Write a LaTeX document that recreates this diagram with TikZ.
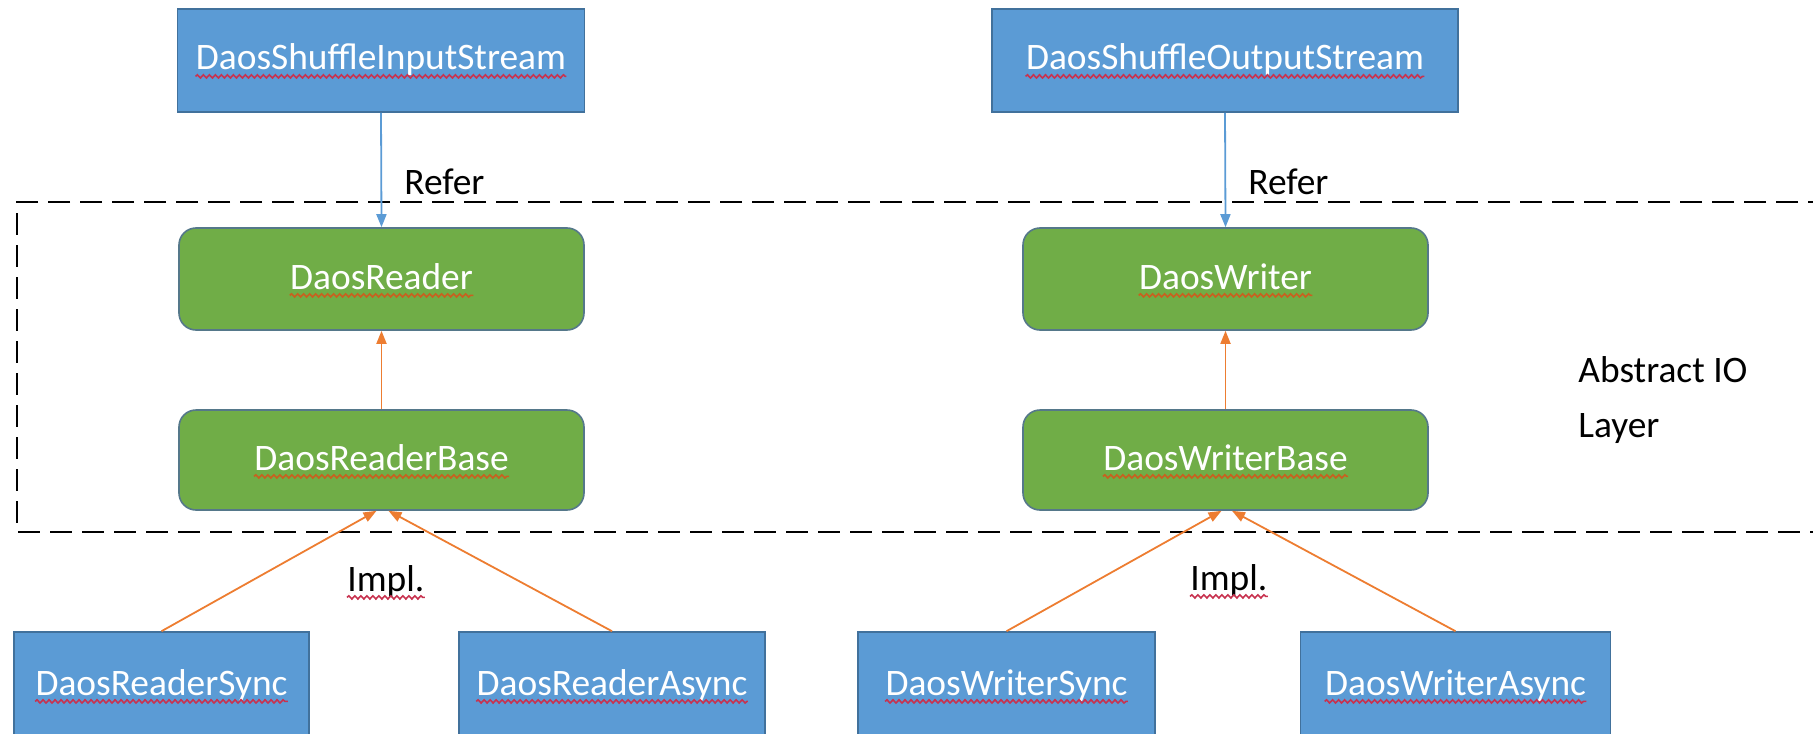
\documentclass[tikz,border=0pt]{standalone}
\usepackage{fontspec}
\setmainfont{Carlito}
\usetikzlibrary{arrows.meta,decorations.pathmorphing}

\definecolor{boxblue}{HTML}{5B9BD5}
\definecolor{blueedge}{HTML}{41719C}
\definecolor{boxgreen}{HTML}{70AD47}
\definecolor{greenedge}{HTML}{55788A}
\definecolor{referblue}{HTML}{5B9BD5}
\definecolor{implorange}{HTML}{ED7D31}
\definecolor{spellred}{HTML}{C8324F}
\definecolor{grammarorange}{HTML}{C9601F}

\tikzset{
  classbox/.style={rectangle, fill=boxblue, draw=blueedge, line width=0.8pt, inner sep=0pt},
  abstractbox/.style={rectangle, rounded corners=8.5pt, fill=boxgreen, draw=greenedge,
    line width=0.8pt, minimum width=202.5pt, minimum height=51pt, inner sep=0pt},
  labelfont/.style={font=\fontsize{18.7pt}{22pt}\selectfont},
  boxtext/.style={labelfont, text=white, inner sep=0pt, anchor=base},
  plaintext/.style={labelfont, text=black, inner sep=0pt, anchor=base west},
  referarrow/.style={draw=referblue, line width=0.9pt, -{Triangle[length=6.5pt,width=5pt]}},
  implarrow/.style={draw=implorange, line width=0.9pt, -{Triangle[length=6.5pt,width=5pt]}},
  layerframe/.style={draw=black, line width=1pt, dash pattern=on 11pt off 5pt},
  spelling/.style={draw=spellred, line width=0.8pt, decorate,
    decoration={snake, amplitude=0.8pt, segment length=3pt}},
  grammar/.style={spelling, draw=grammarorange},
}

% wavy proofing mark under a text node
\newcommand{\proofmark}[2]{%
  \draw[#1] ([yshift=-3.2pt]#2.base west) -- ([yshift=-3.2pt]#2.base east);}

\begin{document}
\begin{tikzpicture}[x=0.5pt, y=-0.5pt]
  \useasboundingbox (0,0) rectangle (1813,733);
  \clip (0,0) rectangle (1813,733);

  % abstract IO layer frame (open to the right)
  \draw[layerframe] (1830,202) -- (17,202) -- (17,532) -- (1830,532);

  % stream classes
  \node[classbox, minimum width=203.5pt, minimum height=51.5pt] (inS) at (381,60.5) {};
  \node[classbox, minimum width=233pt, minimum height=51.5pt] (outS) at (1225,60.5) {};

  % abstract reader / writer
  \node[abstractbox] (rd)  at (381.5,279) {};
  \node[abstractbox, minimum height=50pt] (rdb) at (381.5,460) {};
  \node[abstractbox] (wr)  at (1225.5,279) {};
  \node[abstractbox, minimum height=50pt] (wrb) at (1225.5,460) {};

  % implementations
  \node[classbox, minimum width=147.5pt, minimum height=54pt] (rs) at (161.5,686) {};
  \node[classbox, minimum width=153pt, minimum height=54pt] (ra) at (612,686) {};
  \node[classbox, minimum width=148.5pt, minimum height=54pt] (ws) at (1006.5,686) {};
  \node[classbox, minimum width=155pt, minimum height=54pt] (wa) at (1455.5,686) {};

  % box captions
  \node[boxtext] (inS-t)  at ([yshift=-4.75pt]inS.center)  {DaosShuffleInputStream};
  \node[boxtext] (outS-t) at ([yshift=-4.75pt]outS.center) {DaosShuffleOutputStream};
  \node[boxtext] (rd-t)   at ([yshift=-5pt]rd.center)  {DaosReader};
  \node[boxtext] (rdb-t)  at ([yshift=-5pt]rdb.center) {DaosReaderBase};
  \node[boxtext] (wr-t)   at ([yshift=-5pt]wr.center)  {DaosWriter};
  \node[boxtext] (wrb-t)  at ([yshift=-5pt]wrb.center) {DaosWriterBase};
  \node[boxtext] (rs-t)   at ([yshift=-4.5pt]rs.center)  {DaosReaderSync};
  \node[boxtext] (ra-t)   at ([yshift=-4.5pt]ra.center)  {DaosReaderAsync};
  \node[boxtext] (ws-t)   at ([yshift=-4.5pt]ws.center)  {DaosWriterSync};
  \node[boxtext] (wa-t)   at ([yshift=-4.5pt]wa.center)  {DaosWriterAsync};

  % free labels
  \node[plaintext] (referL) at (404,194)  {Refer};
  \node[plaintext] (referR) at (1248,194) {Refer};
  \node[plaintext] (implL)  at (347,591)  {Impl.};
  \node[plaintext] (implR)  at (1190,590) {Impl.};
  \node[plaintext] (layerA) at (1578,382) {Abstract IO};
  \node[plaintext] (layerB) at (1578,437) {Layer};

  % proofing marks
  \proofmark{spelling}{inS-t}
  \proofmark{spelling}{outS-t}
  \proofmark{grammar}{rd-t}
  \proofmark{grammar}{rdb-t}
  \proofmark{grammar}{wr-t}
  \proofmark{grammar}{wrb-t}
  \proofmark{spelling}{rs-t}
  \proofmark{spelling}{ra-t}
  \proofmark{spelling}{ws-t}
  \proofmark{spelling}{wa-t}
  \proofmark{spelling}{implL}
  \proofmark{spelling}{implR}

  % references
  \draw[referarrow] (inS.south) -- (rd.north);
  \draw[referarrow] (outS.south) -- (wr.north);

  % inheritance
  \draw[implarrow] (rdb.north) -- (rd.south);
  \draw[implarrow] (wrb.north) -- (wr.south);
  \draw[implarrow] (rs.north) -- ([xshift=-2.5pt]rdb.south);
  \draw[implarrow] (ra.north) -- ([xshift=3.5pt]rdb.south);
  \draw[implarrow] (ws.north) -- ([xshift=-2pt]wrb.south);
  \draw[implarrow] (wa.north) -- ([xshift=3.25pt]wrb.south);
\end{tikzpicture}
\end{document}
